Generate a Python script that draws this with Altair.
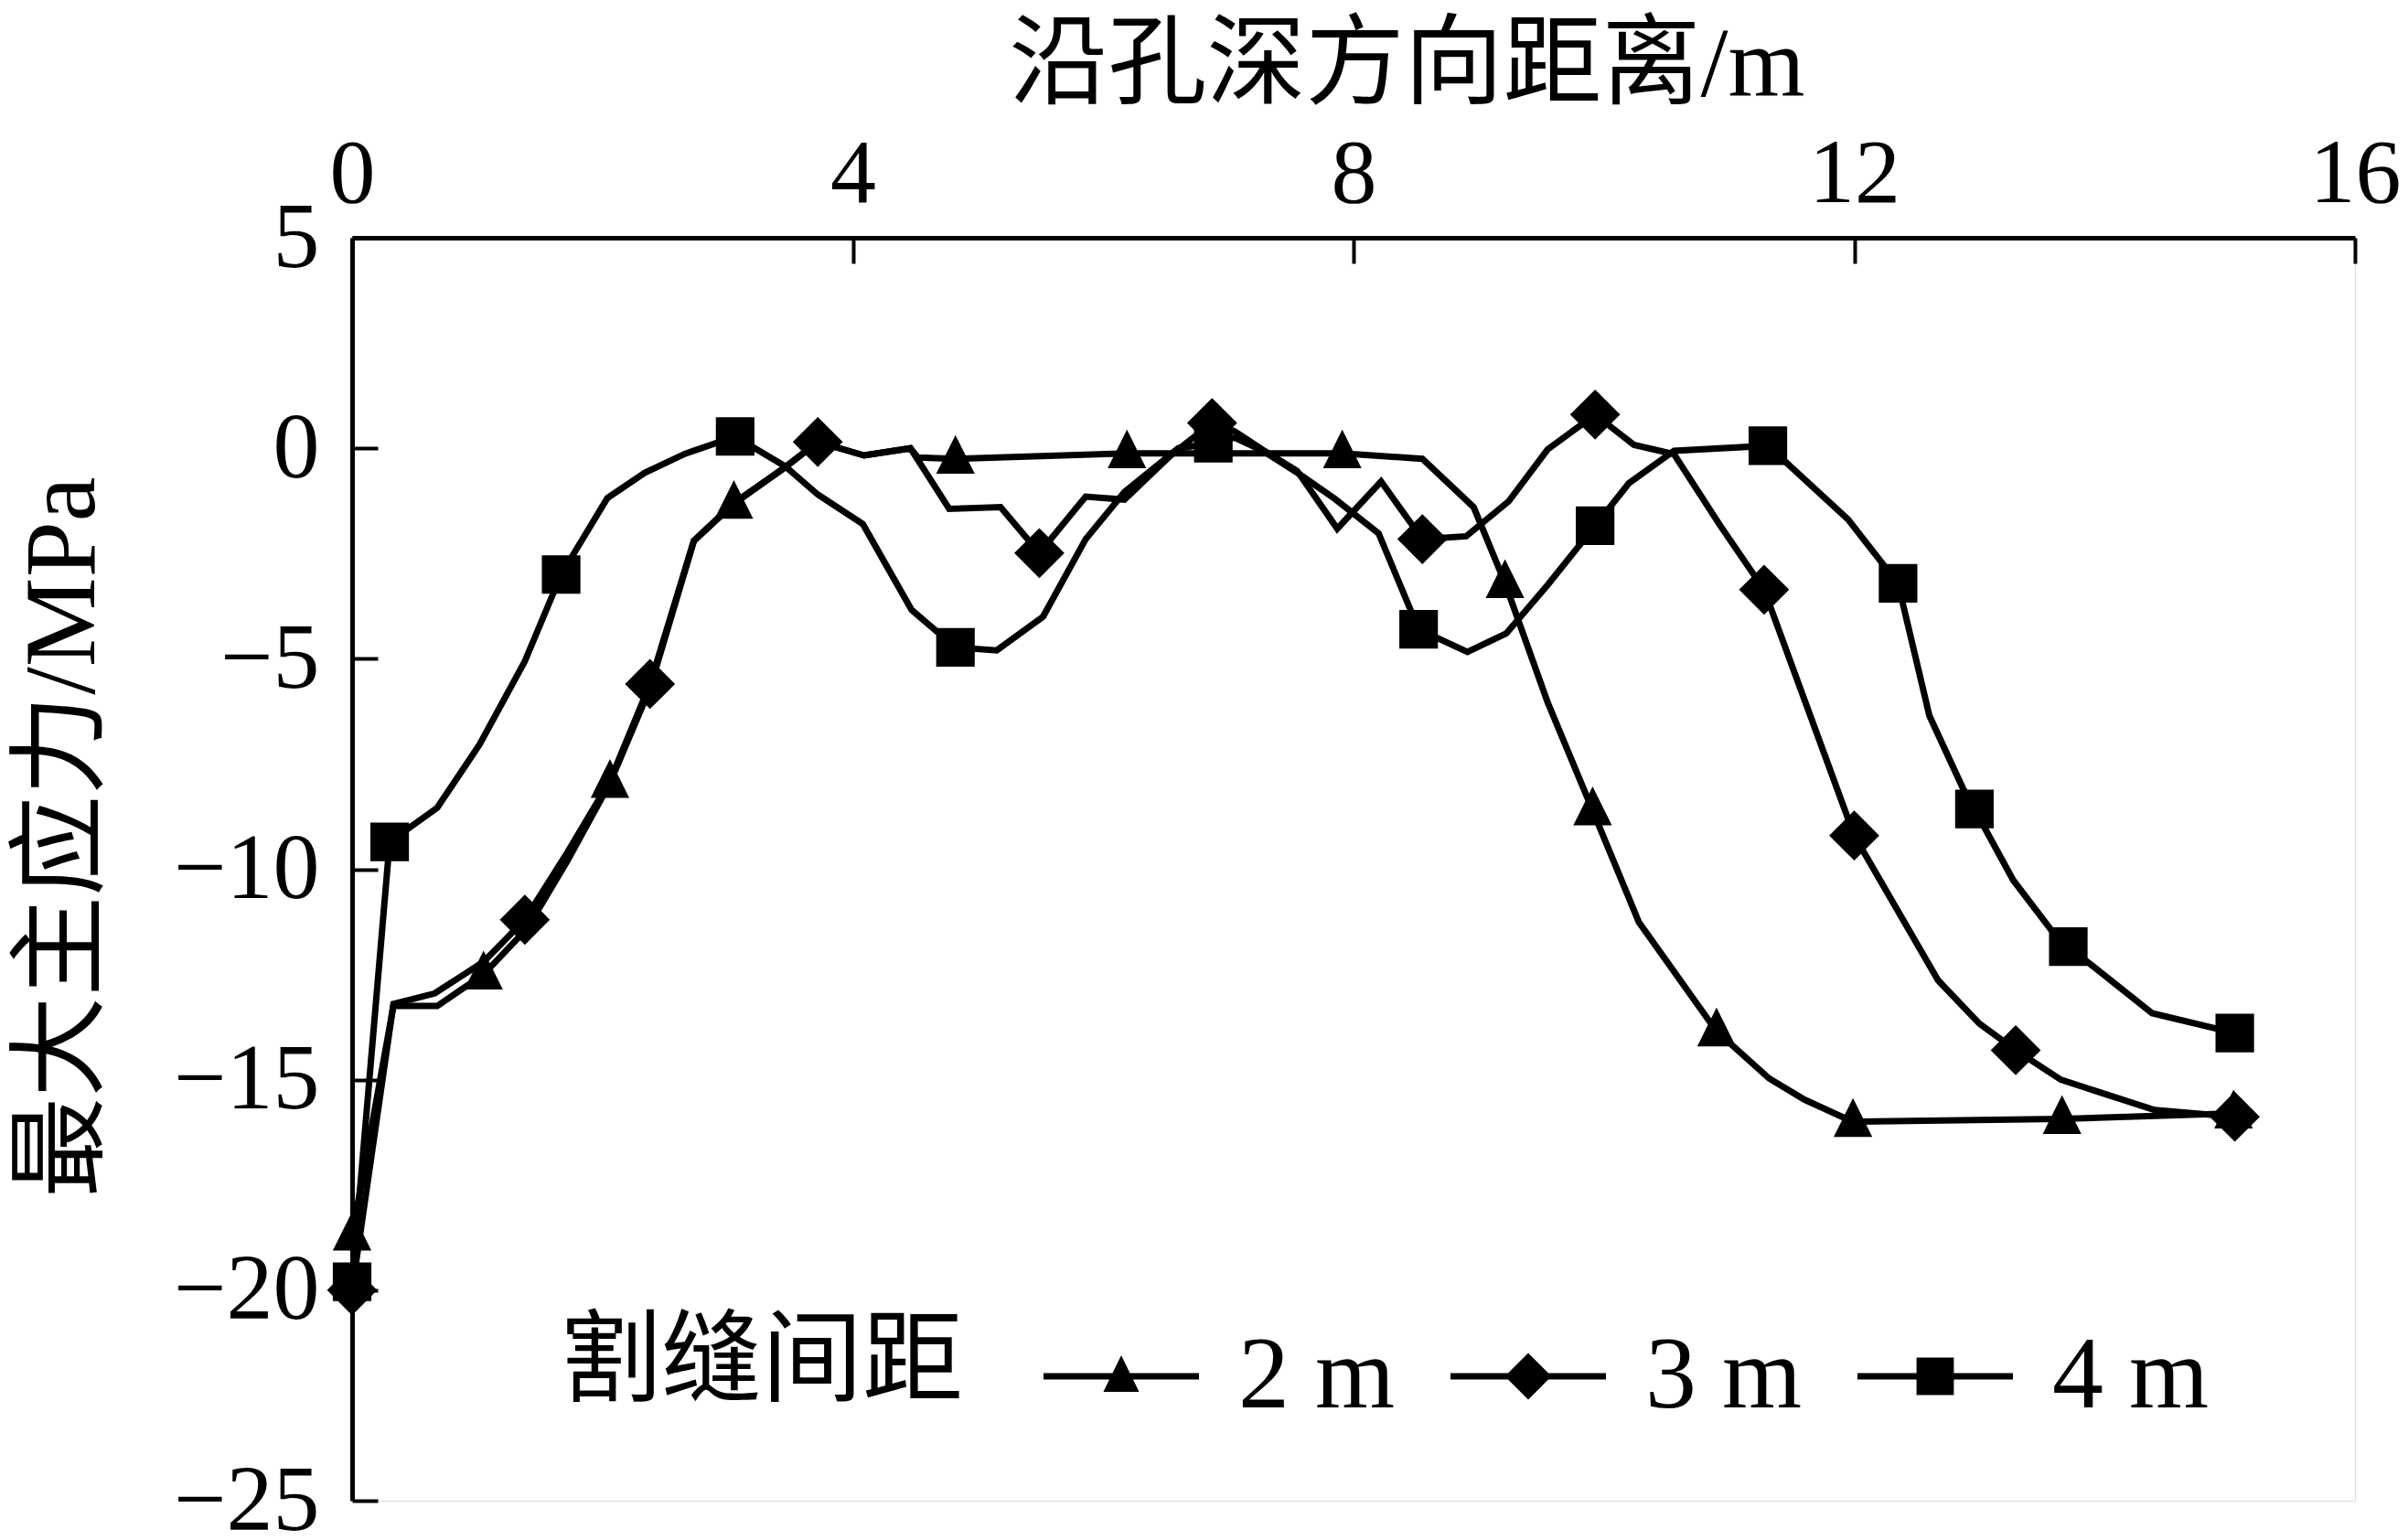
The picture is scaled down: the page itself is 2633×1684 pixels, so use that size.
import altair as alt
import pandas as pd

# ---------------- data ----------------
series_names = ["2 m", "3 m", "4 m"]

x_2m = [0, 0.33, 0.68, 1.05, 1.40, 1.72, 2.06, 2.38, 2.73, 3.05,
        3.46, 3.72, 4.09, 4.46, 4.52, 4.82, 6.19, 7.91, 8.55, 8.96,
        9.21, 9.55, 9.91, 10.28, 10.9, 11.32, 11.6, 11.99, 13.66, 15.03]
y_2m = [-18.7, -13.25, -13.25, -12.5, -11.4, -9.8, -7.95, -5.7, -2.2, -1.32,
        -0.45, 0.15, -0.17, 0.0, -0.22, -0.25, -0.12, -0.12, -0.25, -1.4,
        -3.2, -6.03, -8.6, -11.26, -13.85, -14.97, -15.47, -16.0, -15.93, -15.8]
mk_2m = [1, 0, 0, 1, 0, 0, 1, 0, 0, 1,
         0, 0, 0, 0, 0, 1, 1, 1, 0, 0,
         1, 0, 1, 0, 1, 0, 0, 1, 1, 1]

x_3m = [0, 0.33, 0.66, 1.05, 1.38, 1.72, 2.06, 2.38, 2.73, 3.05,
        3.46, 3.72, 4.09, 4.46, 4.77, 5.18, 5.49, 5.86, 6.17, 6.54,
        6.87, 7.05, 7.27, 7.55, 7.87, 8.22, 8.55, 8.90, 9.24, 9.55,
        9.93, 10.24, 10.56, 10.93, 11.28, 12.0, 12.67, 13.0, 13.29, 13.65,
        14.4, 15.04]
y_3m = [-20.0, -13.2, -12.95, -12.2, -11.2, -9.6, -7.9, -5.6, -2.2, -1.3,
        -0.45, 0.15, -0.17, 0.0, -1.44, -1.4, -2.49, -1.15, -1.22, -0.17,
        0.6, 0.4, -0.03, -0.54, -1.91, -0.79, -2.16, -2.09, -1.26, -0.03,
        0.8, 0.08, -0.14, -1.84, -3.36, -9.2, -12.64, -13.67, -14.3, -15.0,
        -15.72, -15.88]
mk_3m = [1, 0, 0, 0, 1, 0, 0, 1, 0, 0,
         0, 1, 0, 0, 0, 0, 1, 0, 0, 0,
         1, 0, 0, 0, 0, 0, 1, 0, 0, 0,
         1, 0, 0, 0, 1, 1, 0, 0, 1, 0,
         0, 1]

x_4m = [0, 0.30, 0.68, 1.02, 1.38, 1.67, 2.04, 2.34, 2.66, 3.06,
        3.2, 3.46, 3.72, 4.08, 4.47, 4.82, 5.15, 5.52, 5.86, 6.17,
        6.6, 6.88, 7.05, 7.27, 7.56, 7.85, 8.2, 8.52, 8.91, 9.22,
        9.55, 9.93, 10.2, 10.56, 11.31, 11.45, 11.95, 12.35, 12.6, 12.87,
        12.96, 13.27, 13.57, 13.71, 14.38, 15.04]
y_4m = [-19.8, -9.35, -8.54, -7.03, -5.06, -3.0, -1.18, -0.58, -0.13, 0.28,
        0.03, -0.43, -1.1, -1.8, -3.84, -4.73, -4.8, -4.0, -2.16, -1.04,
        0.0, 0.12, 0.25, -0.05, -0.6, -1.2, -2.02, -4.3, -4.84, -4.4,
        -3.25, -1.84, -0.83, -0.06, 0.06, -0.32, -1.69, -3.21, -6.35, -8.09,
        -8.57, -10.26, -11.43, -11.84, -13.42, -13.89]
mk_4m = [1, 1, 0, 0, 0, 1, 0, 0, 0, 1,
         0, 0, 0, 0, 0, 1, 0, 0, 0, 0,
         0, 1, 0, 0, 0, 0, 0, 1, 0, 0,
         0, 1, 0, 0, 1, 0, 0, 1, 0, 0,
         1, 0, 0, 1, 0, 1]

x_ticks = [0, 4, 8, 12, 16]
y_ticks = [-25, -20, -15, -10, -5, 0, 5]

rows = []
for name, xs, ys, mks in zip(series_names, [x_2m, x_3m, x_4m],
                             [y_2m, y_3m, y_4m], [mk_2m, mk_3m, mk_4m]):
    for i, (xv, yv, m) in enumerate(zip(xs, ys, mks)):
        rows.append({"series": name, "x": xv, "y": yv, "marker": m, "order": i})
df = pd.DataFrame(rows)

# ---------------- style ----------------
W, H = 2190, 1381
LATIN = "Liberation Serif, Noto Sans CJK SC"
TICK = 28

marker_paths = [
    "M0,-0.95L0.77,0.6L-0.77,0.6Z",          # triangle
    "M0,-1L1,0L0,1L-1,0Z",                   # diamond
    "M-0.77,-0.77L0.77,-0.77L0.77,0.77L-0.77,0.77Z",  # square
]
# legend glyphs: a filled bar (the line) plus the marker, all clockwise
BAR = "M-1,-0.042L1,-0.042L1,0.042L-1,0.042Z"
legend_paths = [
    BAR + "M0,-0.27L0.23,0.2L-0.23,0.2Z",
    BAR + "M0,-0.3L0.3,0L0,0.3L-0.3,0Z",
    BAR + "M-0.24,-0.24L0.24,-0.24L0.24,0.24L-0.24,0.24Z",
]

x_enc = alt.X(
    "x:Q",
    scale=alt.Scale(domain=[0, 16], nice=False),
    axis=alt.Axis(
        orient="bottom", offset=-H, values=x_ticks, grid=False,
        tickSize=TICK, tickWidth=4, tickColor="black",
        domainWidth=5, domainColor="black",
        labelPadding=-TICK - 40, labelBaseline="alphabetic", labelFlush=False,
        labelOverlap=False, labelFont=LATIN, labelFontSize=100, labelColor="black",
        title="沿孔深方向距离/m", titleFont=LATIN, titleFontSize=108,
        titleFontWeight="normal", titleColor="black",
        titleX=1153, titleY=-156, titleAlign="center", titleBaseline="alphabetic",
    ),
)
y_enc = alt.Y(
    "y:Q",
    scale=alt.Scale(domain=[-25, 5], nice=False),
    axis=alt.Axis(
        orient="right", offset=-W, values=y_ticks, grid=False,
        tickSize=TICK, tickWidth=4, tickColor="black",
        domainWidth=5, domainColor="black",
        labelPadding=-TICK - 36, labelAlign="right", labelBaseline="middle",
        labelFlush=False, labelOverlap=False,
        labelFont=LATIN, labelFontSize=102, labelColor="black",
        title="最大主应力/MPa", titleFont=LATIN, titleFontSize=110,
        titleFontWeight="normal", titleColor="black",
        titleAngle=270, titleX=-316, titleY=655, titleAlign="center",
        titleBaseline="middle",
    ),
)

base = alt.Chart(df)

lines = base.mark_line(color="black", strokeWidth=7, strokeJoin="miter").encode(
    x=x_enc, y=y_enc, detail="series:N", order="order:Q"
)

points = base.transform_filter("datum.marker == 1").mark_point(
    filled=True, size=3000, color="black", opacity=1
).encode(
    x=x_enc, y=y_enc,
    shape=alt.Shape("series:N", scale=alt.Scale(domain=series_names, range=marker_paths),
                    legend=None),
)

legend_layer = base.transform_filter("datum.order == 0").mark_point(
    filled=True, color="black", size=28900, opacity=0
).encode(
    x=x_enc, y=y_enc,
    shape=alt.Shape(
        "series:N",
        scale=alt.Scale(domain=series_names, range=legend_paths),
        legend=alt.Legend(
            title="割缝间距", orient="none", legendX=228, legendY=1160,
            direction="horizontal", columns=3, padding=0,
            titleOrient="left", titleAnchor="middle", titleBaseline="middle",
            titleAlign="left", titlePadding=88,
            titleFont=LATIN, titleFontSize=110, titleFontWeight="normal",
            titleColor="black", titleLimit=2000,
            labelFont=LATIN, labelFontSize=112, labelColor="black", labelLimit=1000,
            labelOffset=43, labelBaseline="middle", columnPadding=60,
            symbolSize=28900, symbolFillColor="black",
            symbolStrokeWidth=0, symbolOpacity=1,
        ),
    ),
)

chart = alt.layer(lines, points, legend_layer).resolve_scale(
    shape="independent"
).properties(
    width=W, height=H,
    autosize=alt.AutoSizeParams(type="none"),
    padding={"left": 377, "top": 252, "right": 50, "bottom": 35},
).configure_view(stroke=None).configure(background="white")

chart.save("out.html", embed_options={"renderer": "svg", "actions": False})
